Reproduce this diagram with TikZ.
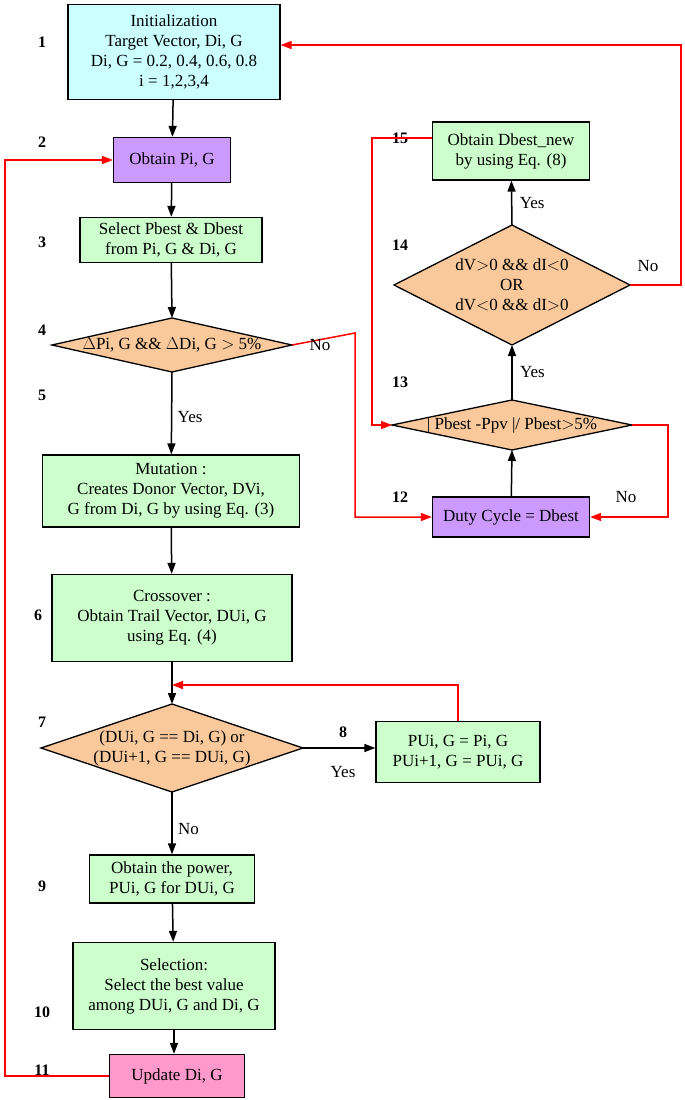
\documentclass[tikz,border=0pt]{standalone}
\usepackage{fontspec}
\setmainfont{Liberation Serif}
\usetikzlibrary{arrows.meta,calc,backgrounds}
\definecolor{cy}{HTML}{CCFFFF}
\definecolor{pu}{HTML}{CC99FF}
\definecolor{gr}{HTML}{CCFFCC}
\definecolor{or}{HTML}{F9C89B}
\definecolor{pk}{HTML}{FF99CC}
\begin{document}
\begin{tikzpicture}[x=1pt,y=-1pt,font=\fontsize{17}{20}\selectfont,
 box/.style={draw,line width=1.3pt,align=center,inner sep=0pt},
 txt/.style={align=center,inner sep=0pt},
 num/.style={font=\fontsize{16}{19}\selectfont\bfseries},
 dia/.style={draw,line width=1.3pt,fill=or},
 ar/.style={line width=1.5pt,-{Triangle[length=11pt,width=8pt]}},
 rar/.style={red,line width=1.5pt,-{Triangle[length=11pt,width=8pt]}}]
\useasboundingbox (0,0) rectangle (685,1100);
% boxes
\node[box,fill=cy,minimum width=212,minimum height=95] (b1) at (174,52) {Initialization\\Target Vector, Di, G\\Di, G = 0.2, 0.4, 0.6, 0.8\\i = 1,2,3,4};
\node[box,fill=pu,minimum width=117,minimum height=45] (b2) at (172,160) {Obtain Pi, G};
\node[box,fill=gr,minimum width=182,minimum height=45] (b3) at (171,240) {Select Pbest \& Dbest\\from Pi, G \& Di, G};
\node[txt] (d4) at (172,345) {$\Delta$Pi, G \&\& $\Delta$Di, G $>$ 5\%};
\node[box,fill=gr,minimum width=257,minimum height=72] (b5) at (171,491) {Mutation :\\Creates Donor Vector, DVi,\\G from Di, G by using Eq. (3)};
\node[box,fill=gr,minimum width=240,minimum height=87] (b6) at (172,618) {Crossover :\\Obtain Trail Vector, DUi, G\\using Eq. (4)};
\node[txt] (d7) at (172,748) {(DUi, G == Di, G) or\\(DUi+1, G == DUi, G)};
\node[box,fill=gr,minimum width=164,minimum height=61] (b8) at (458,752) {PUi, G = Pi, G\\PUi+1, G = PUi, G};
\node[box,fill=gr,minimum width=165,minimum height=48] (b9) at (172,879) {Obtain the power,\\PUi, G for DUi, G};
\node[box,fill=gr,minimum width=202,minimum height=87] (b10) at (174,986) {Selection:\\Select the best value\\among DUi, G and Di, G};
\node[box,fill=pk,minimum width=135,minimum height=43] (b11) at (177,1076) {Update Di, G};
\node[box,fill=pu,minimum width=157,minimum height=40] (b12) at (511,517) {Duty Cycle = Dbest};
\node[txt] (d13) at (512,425) {| Pbest -Ppv |/ Pbest$>$5\%};
\node[txt] (d14) at (512,285) {dV$>$0 \&\& dI$<$0\\OR\\dV$<$0 \&\& dI$>$0};
\node[box,fill=gr,minimum width=157,minimum height=58] (b15) at (511,151) {Obtain Dbest\_new\\by using Eq. (8)};
% diamonds
\begin{scope}[on background layer]
\draw[dia] (d4) ++(-120,0) -- ++(120,-27) -- ++(120,27) -- ++(-120,27) -- cycle;
\draw[dia] (d7) ++(-131,0) -- ++(131,-44) -- ++(131,44) -- ++(-131,44) -- cycle;
\draw[dia] (d13) ++(-120,0) -- ++(120,-25) -- ++(120,25) -- ++(-120,25) -- cycle;
\draw[dia] (d14) ++(-118,0) -- ++(118,-60) -- ++(118,60) -- ++(-118,60) -- cycle;
\end{scope}
\coordinate (d4t) at (172,318); \coordinate (d4b) at (172,372); \coordinate (d4r) at (292,345);
\coordinate (d7t) at (172,704); \coordinate (d7b) at (172,792); \coordinate (d7r) at (303,748);
\coordinate (d13t) at (512,400); \coordinate (d13b) at (512,450); \coordinate (d13r) at (632,425); \coordinate (d13l) at (392,425);
\coordinate (d14t) at (512,225); \coordinate (d14b) at (512,345); \coordinate (d14r) at (630,285);
\coordinate (j7) at (172,685);
% numbers
\foreach \n/\x/\y in {1/42/42,2/42/142,3/42/242,4/42/330,5/42/395,6/38/615,7/42/722,8/343/732,9/42/886,10/42/1012,11/42/1070,12/400/497,13/400/382,14/400/245,15/400/138}
 \node[num] (n\n) at (\x,\y) {\n};
% black arrows
\draw[ar] (b1) -- (b2);
\draw[ar] (b2) -- (b3);
\draw[ar] (b3) -- (d4t);
\draw[ar] (d4b) -- node[right,xshift=2pt,yshift=-4pt] (ly5) {Yes} (b5);
\draw[ar] (b5) -- (b6);
\draw[ar] (b6) -- (d7t);
\draw[ar] (d7r) -- (b8.west|-d7r);
\node (ly8) at (343,772) {Yes};
\draw[ar] (d7b) -- node[right,xshift=2pt,yshift=-6pt] (ln9) {No} (b9);
\draw[ar] (b9) -- (b10);
\draw[ar] (b10) -- (b11.north-|b10);
\draw[ar] (b12) -- (d13b);
\draw[ar] (d13t) -- node[right,xshift=4pt] (ly13) {Yes} (d14b);
\draw[ar] (d14t) -- node[right,xshift=4pt] (ly14) {Yes} (b15);
% red
\draw[rar] (b8.north) |- (j7);
\draw[rar] (b11.west) -| (5,160) -- (b2.west);
\draw[rar] (d4r) -- (355,333) |- (b12.west);
\node (ln4) at (320,345) {No};
\draw[rar] (d13r) -- (668,425) |- (b12.east);
\node (ln13) at (626,497) {No};
\draw[rar] (d14r) -- (681,285) |- (b1.east|-0,45);
\node (ln14) at (648,266) {No};
\draw[rar] (b15.west|-0,138) -- (372,138) |- (d13l);
\end{tikzpicture}
\end{document}
